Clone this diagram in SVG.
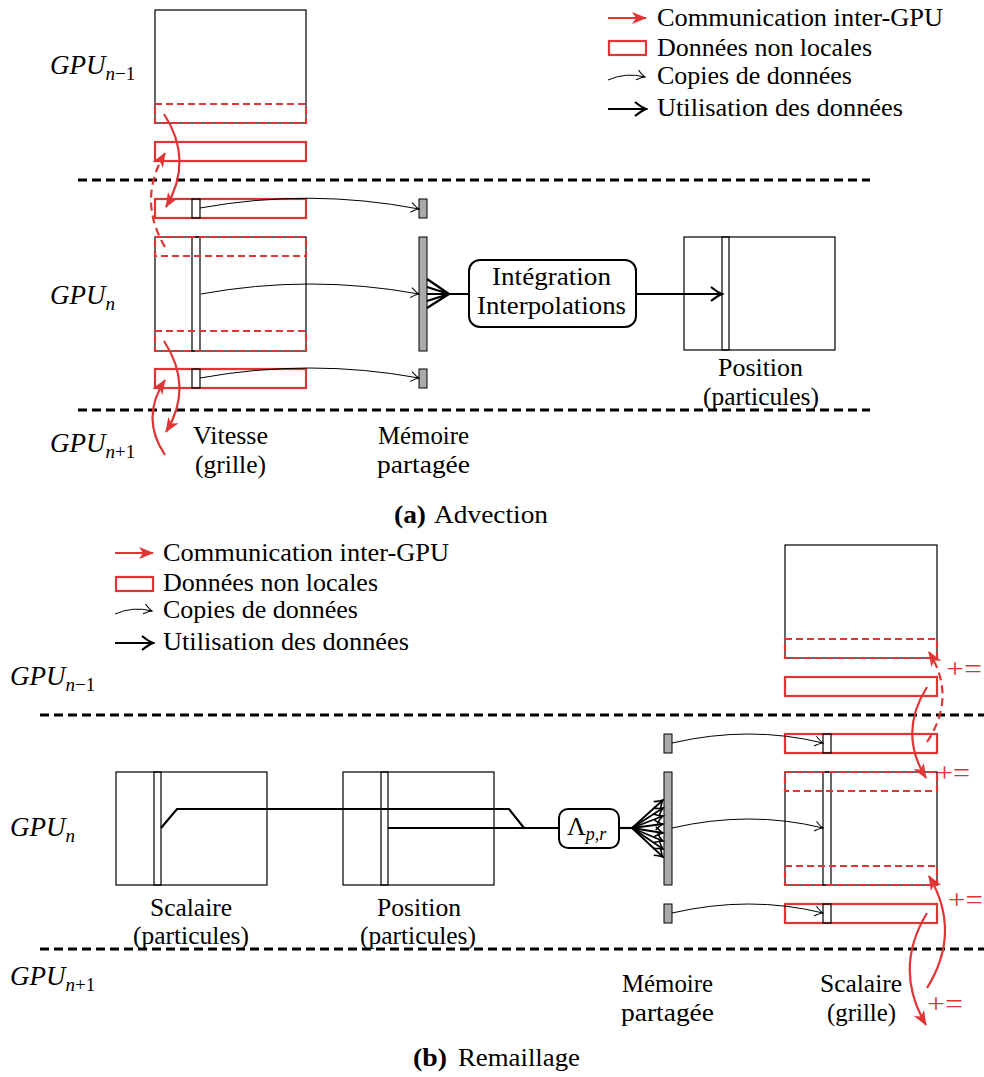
<svg xmlns="http://www.w3.org/2000/svg" width="984" height="1077" viewBox="0 0 984 1077">
<defs>
<marker id="mred" viewBox="-15 -7 17 14" refX="0" refY="0" markerWidth="17" markerHeight="14" markerUnits="userSpaceOnUse" orient="auto">
<path d="M-14,-6 L1,0 L-14,6 L-10,0 z" fill="#e03535"/>
</marker>
<marker id="mcopy" viewBox="-9 -6 11 12" refX="0" refY="0" markerWidth="11" markerHeight="12" markerUnits="userSpaceOnUse" orient="auto">
<path d="M-8,-5 Q-3,-1 0,0 Q-3,1 -8,5" fill="none" stroke="#000" stroke-width="1"/>
</marker>
<marker id="muse" viewBox="-13 -8 15 16" refX="0" refY="0" markerWidth="15" markerHeight="16" markerUnits="userSpaceOnUse" orient="auto">
<path d="M-11,-7 Q-4,-1.5 0,0 Q-4,1.5 -11,7" fill="none" stroke="#000" stroke-width="2.2"/>
</marker>
<marker id="mfan" viewBox="-10 -7 12 14" refX="0" refY="0" markerWidth="12" markerHeight="14" markerUnits="userSpaceOnUse" orient="auto">
<path d="M-8,-5 Q-3,-1 0,0 Q-3,1 -8,5" fill="none" stroke="#000" stroke-width="1.6"/>
</marker>
</defs>
<style>
.t{font-family:"Liberation Serif","DejaVu Serif",serif;font-size:26px;font-weight:normal;fill:#000}
.b{font-weight:bold}
.gpu{font-family:"Liberation Serif","DejaVu Serif",serif;font-size:27px;font-style:italic;fill:#000}
.sub{font-size:19px}
.box{fill:#fff;stroke:#000;stroke-width:1.2}
.col{fill:none;stroke:#000;stroke-width:1.2}
.nl{fill:none;stroke:#e03535;stroke-width:2.2}
.nld{fill:none;stroke:#e03535;stroke-width:2.2;stroke-dasharray:7 4}
.sep{stroke:#000;stroke-width:3;stroke-dasharray:9 5}
.mem{fill:#a9aba9;stroke:#000;stroke-width:1}
.copy{fill:none;stroke:#000;stroke-width:1;marker-end:url(#mcopy)}
.use{fill:none;stroke:#000;stroke-width:2.2}
.usea{fill:none;stroke:#000;stroke-width:2.2;marker-end:url(#muse)}
.fan{fill:none;stroke:#000;stroke-width:1.8;marker-end:url(#mfan)}
.com{fill:none;stroke:#e03535;stroke-width:2.2;marker-end:url(#mred)}
.comd{fill:none;stroke:#e03535;stroke-width:2.2;stroke-dasharray:8 5;marker-end:url(#mred)}
.pe{font-family:"Liberation Serif","DejaVu Serif",serif;font-size:28px;fill:#e03535}
.rbox{fill:#fff;stroke:#000;stroke-width:2}
</style>

<!-- ================= (a) Advection ================= -->
<g id="a-separators">
<line class="sep" x1="78" y1="180" x2="870" y2="180"/>
<line class="sep" x1="78" y1="410" x2="870" y2="410"/>
</g>

<g id="a-gpu-labels">
<text class="gpu" x="50" y="74">GPU<tspan class="sub" dy="6">n</tspan><tspan class="sub" font-style="normal">−1</tspan></text>
<text class="gpu" x="50" y="304">GPU<tspan class="sub" dy="6">n</tspan></text>
<text class="gpu" x="50" y="452">GPU<tspan class="sub" dy="6">n</tspan><tspan class="sub" font-style="normal">+1</tspan></text>
</g>

<g id="a-legend">
<line class="com" x1="608" y1="18" x2="646" y2="18"/>
<text class="t" x="657" y="26" textLength="286" lengthAdjust="spacingAndGlyphs">Communication inter-GPU</text>
<rect class="nl" x="609" y="41" width="37" height="14"/>
<text class="t" x="657" y="56" textLength="215" lengthAdjust="spacingAndGlyphs">Données non locales</text>
<path class="copy" d="M608,80 Q626,72 645,77"/>
<text class="t" x="657" y="84" textLength="195" lengthAdjust="spacingAndGlyphs">Copies de données</text>
<line class="usea" x1="608" y1="109" x2="646" y2="109"/>
<text class="t" x="657" y="116" textLength="246" lengthAdjust="spacingAndGlyphs">Utilisation des données</text>
</g>

<g id="a-gpu-nm1">
<rect class="box" x="155" y="10" width="151" height="113"/>
<rect class="nld" x="155" y="104" width="151" height="19"/>
</g>

<g id="a-halo-top">
<rect class="nl" x="155" y="142" width="151" height="19"/>
</g>

<g id="a-vitesse">
<rect class="nl" x="155" y="199" width="151" height="19"/>
<rect class="col" x="192" y="199" width="8" height="19"/>
<rect class="box" x="155" y="237" width="151" height="114"/>
<rect class="col" x="192" y="237" width="8" height="114"/>
<rect class="nld" x="155" y="237" width="151" height="19"/>
<rect class="nld" x="155" y="331" width="151" height="20"/>
<rect class="nl" x="155" y="369" width="151" height="19"/>
<rect class="col" x="192" y="369" width="8" height="19"/>
<text class="t" x="193" y="444" textLength="75" lengthAdjust="spacingAndGlyphs">Vitesse</text>
<text class="t" x="195" y="473" textLength="71" lengthAdjust="spacingAndGlyphs">(grille)</text>
</g>

<g id="a-memoire">
<rect class="mem" x="419" y="199" width="8" height="19"/>
<rect class="mem" x="419" y="237" width="8" height="114"/>
<rect class="mem" x="419" y="369" width="8" height="19"/>
<text class="t" x="378" y="444" textLength="91" lengthAdjust="spacingAndGlyphs">Mémoire</text>
<text class="t" x="377" y="473" textLength="93" lengthAdjust="spacingAndGlyphs">partagée</text>
</g>

<g id="a-integration">
<rect class="rbox" x="469" y="260" width="167" height="67" rx="11" ry="11"/>
<text class="t" x="492" y="285" textLength="119" lengthAdjust="spacingAndGlyphs">Intégration</text>
<text class="t" x="477" y="314" textLength="149" lengthAdjust="spacingAndGlyphs">Interpolations</text>
</g>

<g id="a-position">
<rect class="box" x="684" y="237" width="151" height="113"/>
<rect class="col" x="722" y="237" width="7" height="113"/>
<text class="t" x="718" y="376" textLength="85" lengthAdjust="spacingAndGlyphs">Position</text>
<text class="t" x="703" y="405" textLength="116" lengthAdjust="spacingAndGlyphs">(particules)</text>
</g>

<g id="a-connectors">
<path class="com" d="M164,114 Q194,160 166,207"/>
<path class="comd" d="M165,247 Q137,200 165,153"/>
<path class="com" d="M164,341 Q194,387 166,432"/>
<path class="com" d="M165,455 Q140,418 165,380"/>
<path class="copy" d="M200,208 Q310,188 419,209"/>
<path class="copy" d="M201,294 Q310,274 419,294"/>
<path class="copy" d="M200,378 Q310,358 419,378"/>
<path class="use" d="M427,279 L449,294 M427,287 L449,294 M427,294 L449,294 M427,301 L449,294 M427,308 L449,294 M449,294 L469,294"/>
<line class="usea" x1="636" y1="294" x2="722" y2="294"/>
</g>

<g id="a-caption">
<text class="t b" x="394" y="523" textLength="32" lengthAdjust="spacingAndGlyphs">(a)</text>
<text class="t" x="434" y="523" textLength="114" lengthAdjust="spacingAndGlyphs">Advection</text>
</g>

<!-- ================= (b) Remaillage ================= -->
<g id="b-separators">
<line class="sep" x1="40" y1="715" x2="984" y2="715"/>
<line class="sep" x1="40" y1="949" x2="984" y2="949"/>
</g>

<g id="b-gpu-labels">
<text class="gpu" x="10" y="685">GPU<tspan class="sub" dy="6">n</tspan><tspan class="sub" font-style="normal">−1</tspan></text>
<text class="gpu" x="10" y="836">GPU<tspan class="sub" dy="6">n</tspan></text>
<text class="gpu" x="10" y="985">GPU<tspan class="sub" dy="6">n</tspan><tspan class="sub" font-style="normal">+1</tspan></text>
</g>

<g id="b-legend">
<line class="com" x1="115" y1="553" x2="153" y2="553"/>
<text class="t" x="163" y="561" textLength="286" lengthAdjust="spacingAndGlyphs">Communication inter-GPU</text>
<rect class="nl" x="116" y="577" width="37" height="14"/>
<text class="t" x="163" y="591" textLength="215" lengthAdjust="spacingAndGlyphs">Données non locales</text>
<path class="copy" d="M115,614 Q133,606 152,611"/>
<text class="t" x="163" y="618" textLength="195" lengthAdjust="spacingAndGlyphs">Copies de données</text>
<line class="usea" x1="115" y1="643" x2="153" y2="643"/>
<text class="t" x="163" y="650" textLength="246" lengthAdjust="spacingAndGlyphs">Utilisation des données</text>
</g>

<g id="b-scalaire-part">
<rect class="box" x="116" y="772" width="151" height="113"/>
<rect class="col" x="154" y="772" width="7" height="113"/>
<text class="t" x="150" y="916" textLength="82" lengthAdjust="spacingAndGlyphs">Scalaire</text>
<text class="t" x="133" y="944" textLength="116" lengthAdjust="spacingAndGlyphs">(particules)</text>
</g>

<g id="b-position-part">
<rect class="box" x="343" y="772" width="151" height="113"/>
<rect class="col" x="381" y="772" width="7" height="113"/>
<text class="t" x="377" y="916" textLength="84" lengthAdjust="spacingAndGlyphs">Position</text>
<text class="t" x="360" y="944" textLength="116" lengthAdjust="spacingAndGlyphs">(particules)</text>
</g>

<g id="b-lambda">
<rect class="rbox" x="559" y="809" width="60" height="39" rx="9" ry="9"/>
<text class="t" x="567" y="835">Λ<tspan font-size="18" font-style="italic" dy="5">p,r</tspan></text>
</g>

<g id="b-memoire">
<rect class="mem" x="664" y="734" width="8" height="19"/>
<rect class="mem" x="664" y="772" width="8" height="113"/>
<rect class="mem" x="664" y="904" width="8" height="19"/>
<text class="t" x="622" y="992" textLength="91" lengthAdjust="spacingAndGlyphs">Mémoire</text>
<text class="t" x="621" y="1021" textLength="93" lengthAdjust="spacingAndGlyphs">partagée</text>
</g>

<g id="b-gpu-nm1">
<rect class="box" x="785" y="545" width="152" height="113"/>
<rect class="nld" x="785" y="639" width="152" height="19"/>
<rect class="nl" x="785" y="677" width="152" height="19"/>
</g>

<g id="b-scalaire-grille">
<rect class="nl" x="785" y="734" width="152" height="19"/>
<rect class="col" x="823" y="734" width="8" height="19"/>
<rect class="box" x="785" y="772" width="152" height="113"/>
<rect class="col" x="823" y="772" width="8" height="113"/>
<rect class="nld" x="785" y="772" width="152" height="19"/>
<rect class="nld" x="785" y="866" width="152" height="19"/>
<rect class="nl" x="785" y="904" width="152" height="19"/>
<rect class="col" x="823" y="904" width="8" height="19"/>
<text class="t" x="820" y="992" textLength="82" lengthAdjust="spacingAndGlyphs">Scalaire</text>
<text class="t" x="827" y="1021" textLength="69" lengthAdjust="spacingAndGlyphs">(grille)</text>
</g>

<g id="b-connectors">
<path class="use" d="M161,828 L177,809 L509,809 L524,828 L559,828"/>
<line class="use" x1="388" y1="828" x2="524" y2="828"/>
<line class="use" x1="619" y1="828" x2="632" y2="828"/>
<path class="fan" d="M632,828 L663,800"/>
<path class="fan" d="M632,828 L663,808"/>
<path class="fan" d="M632,828 L663,816"/>
<path class="fan" d="M632,828 L663,824"/>
<path class="fan" d="M632,828 L663,833"/>
<path class="fan" d="M632,828 L663,841"/>
<path class="fan" d="M632,828 L663,849"/>
<path class="fan" d="M632,828 L663,857"/>
<path class="copy" d="M672,743 Q750,725 823,743"/>
<path class="copy" d="M672,828 Q750,810 823,828"/>
<path class="copy" d="M672,913 Q750,895 823,913"/>
<path class="comd" d="M927,742 Q957,697 929,652"/>
<path class="com" d="M927,687 Q898,733 926,778"/>
<path class="com" d="M927,988 Q962,932 929,876"/>
<path class="com" d="M927,913 Q893,969 926,1025"/>
<text class="pe" x="946" y="678" textLength="36" lengthAdjust="spacingAndGlyphs">+=</text>
<text class="pe" x="936" y="782" textLength="34" lengthAdjust="spacingAndGlyphs">+=</text>
<text class="pe" x="948" y="909" textLength="35" lengthAdjust="spacingAndGlyphs">+=</text>
<text class="pe" x="927" y="1013" textLength="36" lengthAdjust="spacingAndGlyphs">+=</text>
</g>

<g id="b-caption">
<text class="t b" x="413" y="1066" textLength="34" lengthAdjust="spacingAndGlyphs">(b)</text>
<text class="t" x="458" y="1066" textLength="122" lengthAdjust="spacingAndGlyphs">Remaillage</text>
</g>
</svg>
